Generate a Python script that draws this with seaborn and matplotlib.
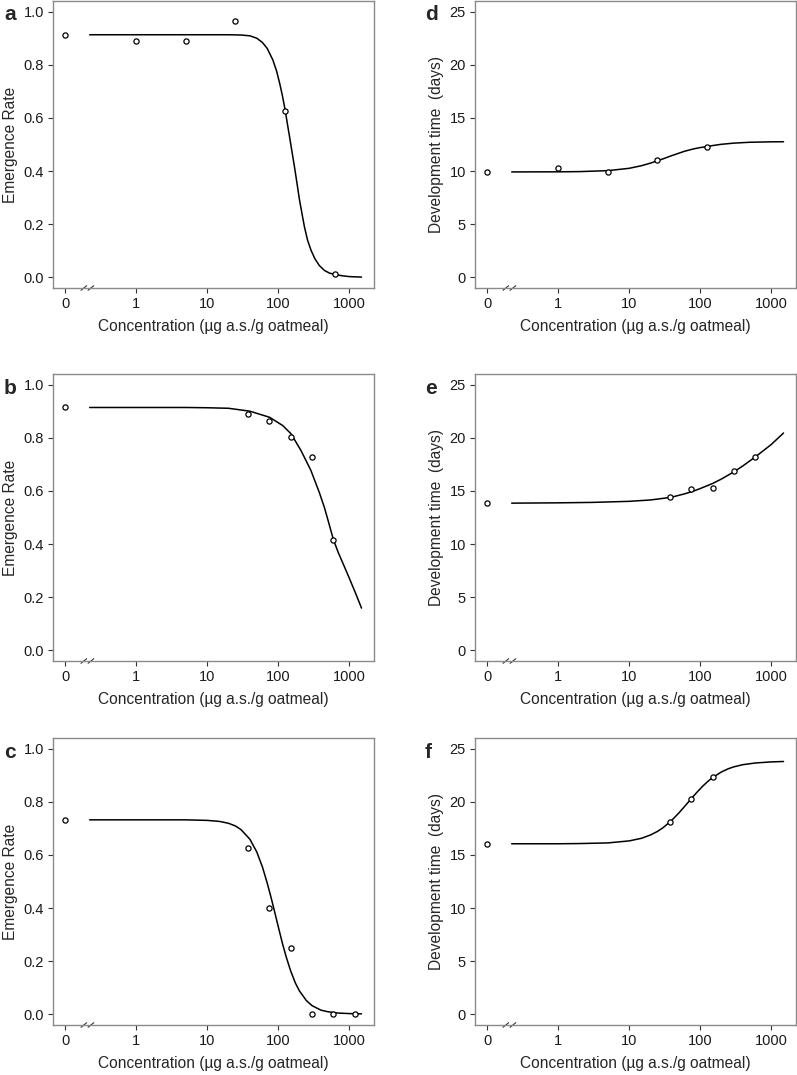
import numpy as np
import pandas as pd
import seaborn as sns
import matplotlib.pyplot as plt
import matplotlib.transforms as mtransforms

# observed means (0 = control)
a_pts_x = [0, 1, 5, 25, 125, 625]
a_pts_y = [0.913, 0.889, 0.889, 0.963, 0.626, 0.011]
b_pts_x = [0, 37.5, 75, 150, 300, 600]
b_pts_y = [0.914, 0.890, 0.865, 0.803, 0.728, 0.415]
c_pts_x = [0, 37.5, 75, 150, 300, 600, 1200]
c_pts_y = [0.732, 0.627, 0.400, 0.249, 0.0, 0.0, 0.0]
d_pts_x = [0, 1, 5, 25, 125]
d_pts_y = [9.88, 10.31, 9.94, 11.03, 12.29]
e_pts_x = [0, 37.5, 75, 150, 300, 600]
e_pts_y = [13.82, 14.43, 15.15, 15.28, 16.84, 18.22]
f_pts_x = [0, 37.5, 75, 150]
f_pts_y = [16.05, 18.12, 20.29, 22.30]

# fitted curves
a_cx = [0.22, 1, 5, 10, 20, 30, 40, 50, 60, 70, 84, 95, 105, 115, 126, 135, 145, 157,
        170, 185, 200, 218, 235, 260, 291, 330, 380, 450, 530, 630, 800, 1000, 1500]
a_cy = [0.913, 0.913, 0.913, 0.913, 0.913, 0.912, 0.909, 0.900, 0.884, 0.862, 0.819, 0.777,
        0.731, 0.683, 0.628, 0.578, 0.529, 0.472, 0.416, 0.352, 0.292, 0.237, 0.190, 0.140,
        0.102, 0.070, 0.045, 0.026, 0.016, 0.011, 0.006, 0.003, 0.001]
b_cx = [0.22, 1, 5, 10, 20, 40, 76, 116, 152, 210, 290, 380, 450, 500, 600, 700, 850,
        1000, 1250, 1500]
b_cy = [0.914, 0.914, 0.914, 0.913, 0.911, 0.900, 0.877, 0.846, 0.815, 0.752, 0.677, 0.595,
        0.537, 0.494, 0.418, 0.370, 0.318, 0.274, 0.212, 0.159]
c_cx = [0.22, 1, 5, 10, 15, 20, 25, 30, 40, 50, 60, 70, 80, 90, 100, 115, 130, 150, 175,
        200, 250, 300, 400, 500, 700, 1000, 1500]
c_cy = [0.732, 0.732, 0.732, 0.730, 0.726, 0.719, 0.709, 0.695, 0.659, 0.611, 0.555, 0.495,
        0.437, 0.382, 0.332, 0.267, 0.216, 0.164, 0.118, 0.088, 0.052, 0.033, 0.016, 0.010,
        0.005, 0.003, 0.002]
d_cx = [0.22, 1, 2, 5, 10, 15, 20, 25, 30, 40, 60, 80, 100, 125, 150, 200, 300, 500, 1000, 1500]
d_cy = [9.92, 9.93, 9.95, 10.04, 10.26, 10.51, 10.75, 10.97, 11.15, 11.46, 11.86, 12.08,
        12.21, 12.30, 12.40, 12.52, 12.63, 12.71, 12.75, 12.76]
e_cx = [0.22, 1, 3, 10, 20, 30, 40, 60, 80, 100, 150, 200, 300, 400, 600, 800, 1000, 1500]
e_cy = [13.85, 13.88, 13.92, 14.02, 14.15, 14.30, 14.42, 14.72, 14.98, 15.22, 15.70, 16.12,
        16.80, 17.35, 18.20, 18.85, 19.35, 20.45]
f_cx = [0.22, 1, 2, 5, 10, 15, 20, 25, 30, 40, 50, 60, 75, 90, 110, 130, 150, 200, 250,
        300, 400, 600, 1000, 1500]
f_cy = [16.05, 16.05, 16.07, 16.13, 16.32, 16.57, 16.88, 17.21, 17.56, 18.27, 18.94, 19.54,
        20.29, 20.89, 21.50, 21.95, 22.28, 22.81, 23.11, 23.29, 23.49, 23.65, 23.75, 23.79]

x_ticks = [0, 1, 10, 100, 1000]
x_tick_labels = ["0", "1", "10", "100", "1000"]
rate_ticks = [0.0, 0.2, 0.4, 0.6, 0.8, 1.0]
days_ticks = [0, 5, 10, 15, 20, 25]

panels = [
    ("a", a_pts_x, a_pts_y, a_cx, a_cy, "rate"),
    ("b", b_pts_x, b_pts_y, b_cx, b_cy, "rate"),
    ("c", c_pts_x, c_pts_y, c_cx, c_cy, "rate"),
    ("d", d_pts_x, d_pts_y, d_cx, d_cy, "days"),
    ("e", e_pts_x, e_pts_y, e_cx, e_cy, "days"),
    ("f", f_pts_x, f_pts_y, f_cx, f_cy, "days"),
]

sns.set_style("white")
plt.rcParams['font.family'] = ['Liberation Sans', 'DejaVu Sans']

W, H = 797, 1075
fig = plt.figure(figsize=(W / 100, H / 100), dpi=100)

CTRL_POS = 0.1  # where the control (0) is drawn on the log axis


def plot_x(v):
    return [CTRL_POS if c == 0 else c for c in v]


lefts = {"rate": 53, "days": 475}
tops = [1, 374, 738]
box_w, box_h = 321, 287

for i, (lab, px, py, cx, cy, kind) in enumerate(panels):
    row = i % 3
    left = lefts[kind]
    top = tops[row]
    ax = fig.add_axes([left / W, 1 - (top + box_h) / H, box_w / W, box_h / H])

    pts = pd.DataFrame({"x": plot_x(px), "y": py})
    curve = pd.DataFrame({"x": cx, "y": cy})
    sns.lineplot(data=curve, x="x", y="y", ax=ax, color="black", linewidth=1.1,
                 sort=False, estimator=None)
    sns.scatterplot(data=pts, x="x", y="y", ax=ax, s=14, facecolor="white",
                    edgecolor="black", linewidth=0.9, marker="o", zorder=3)

    ax.set_xscale("log")
    ax.set_xlim(10 ** -1.175, 10 ** 3.352)
    ax.set_xticks(plot_x(x_ticks))
    ax.set_xticklabels(x_tick_labels)
    ax.minorticks_off()
    if kind == "rate":
        ax.set_ylim(-0.04, 1.04)
        ax.set_yticks(rate_ticks)
        ax.set_yticklabels([f"{t:.1f}" for t in rate_ticks])
        ax.set_ylabel("Emergence Rate", fontsize=11.2, labelpad=4)
    else:
        ax.set_ylim(-1, 26)
        ax.set_yticks(days_ticks)
        ax.set_ylabel("Development time  (days)", fontsize=11.2, labelpad=4)
    ax.set_xlabel("Concentration (\u00b5g a.s./g oatmeal)", fontsize=11.2, labelpad=6)

    ax.tick_params(axis="both", direction="out", length=3.5, width=0.8, color="#333333",
                   labelsize=10.5, labelcolor="#1a1a1a", pad=3, bottom=True, left=True)
    for sp in ax.spines.values():
        sp.set_color("#8a8a8a")
        sp.set_linewidth(1.0)

    # axis break marks between control and the log range
    trans = mtransforms.blended_transform_factory(ax.transData, ax.transAxes)
    for bx in [10 ** -0.74, 10 ** -0.64]:
        ax.plot([bx * 10 ** -0.04, bx * 10 ** 0.04], [-0.008, 0.008], transform=trans,
                color="#333333", linewidth=0.8, clip_on=False)

    fig.text((left - 49) / W if kind == "rate" else (left - 50) / W,
             1 - (top + 14) / H, lab, fontsize=15, fontweight="bold",
             ha="left", va="center")

fig.savefig("out.png", dpi=100)
